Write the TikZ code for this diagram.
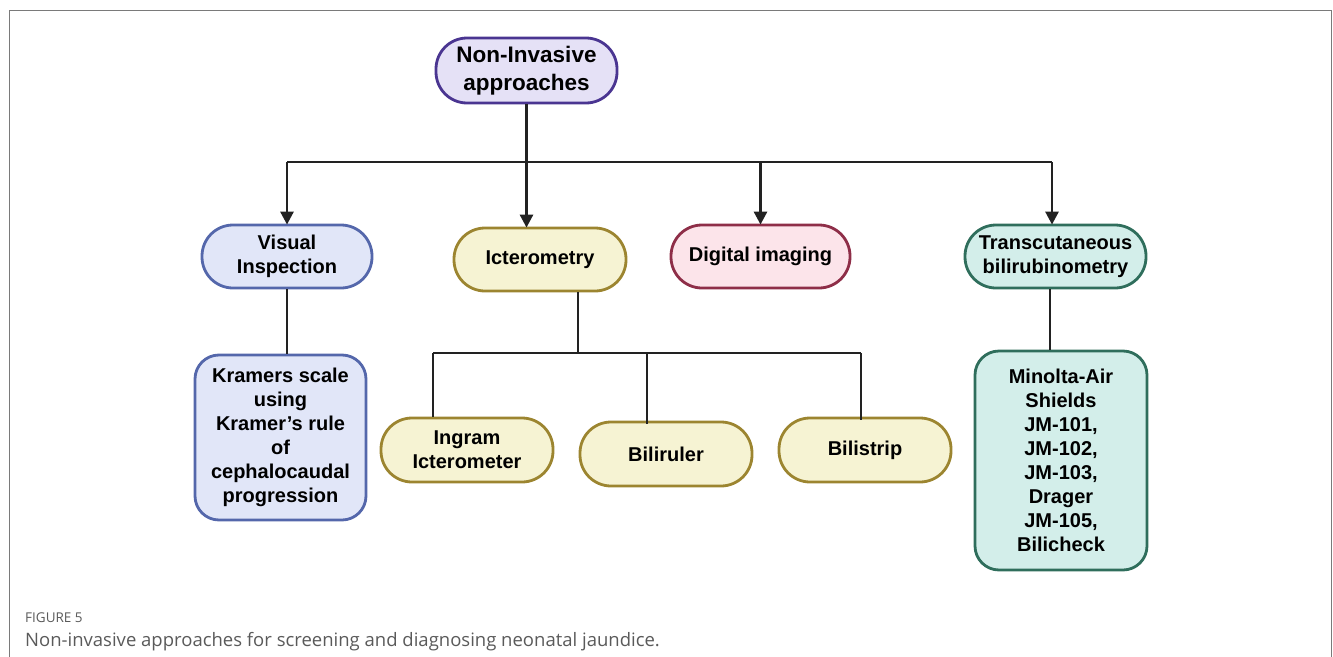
\documentclass[tikz,border=0pt]{standalone}
\usepackage{fontspec}
\setmainfont{Liberation Sans}
\newfontfamily\capfont{Open Sans}
\usetikzlibrary{arrows.meta}
\definecolor{rootfill}{HTML}{E5E1F6}
\definecolor{rootdraw}{HTML}{4A3591}
\definecolor{visfill}{HTML}{E1E6F8}
\definecolor{visdraw}{HTML}{5467AB}
\definecolor{ictfill}{HTML}{F6F3D3}
\definecolor{ictdraw}{HTML}{9C8530}
\definecolor{digfill}{HTML}{FCE4EA}
\definecolor{digdraw}{HTML}{8E2E48}
\definecolor{tcbfill}{HTML}{D3EEEA}
\definecolor{tcbdraw}{HTML}{2F6E5C}
\definecolor{framegray}{HTML}{7A7A7A}
\definecolor{capgray}{HTML}{5A5A5A}
\definecolor{linecol}{HTML}{222222}
\tikzset{
  pill/.style={rectangle, rounded corners=31pt, line width=2.8pt, inner sep=0pt,
    minimum height=63pt, align=center, font=\bfseries\fontsize{20}{24}\selectfont},
  tallbox/.style={rectangle, rounded corners=24pt, line width=2.8pt, inner sep=0pt,
    align=center, font=\bfseries\fontsize{20}{24}\selectfont},
  conn/.style={line width=2.8pt, draw=linecol},
  arr/.style={conn, -{Triangle[width=13pt,length=13pt]}, shorten >=-1pt},
}
\begin{document}
\begin{tikzpicture}[x=1pt,y=-1pt]
\useasboundingbox (0,0) rectangle (1333,656);
% frame
\draw[framegray, line width=1.3pt] (9.5,660) -- (9.5,10.5) -- (1331.5,10.5) -- (1331.5,660);
% nodes
\node[pill, fill=rootfill, draw=rootdraw, minimum width=181pt, minimum height=65pt,
  font=\bfseries\fontsize{22.5}{28}\selectfont] (root) at (526.5,70.5) {Non-Invasive\\approaches};
\node[pill, fill=visfill, draw=visdraw, minimum width=170pt] (vis) at (287,256.5) {Visual\\Inspection};
\node[pill, fill=ictfill, draw=ictdraw, minimum width=172pt] (ict) at (540,259.5) {Icterometry};
\node[pill, fill=digfill, draw=digdraw, minimum width=179pt] (dig) at (760.5,256.5) {Digital imaging};
\node[pill, fill=tcbfill, draw=tcbdraw, minimum width=181pt] (tcb) at (1055.5,256.5) {Transcutaneous\\bilirubinometry};
\node[tallbox, fill=visfill, draw=visdraw, minimum width=171pt, minimum height=165pt] (kra) at (280.5,437.5)
  {Kramers scale\\using\\Kramer’s rule\\of\\cephalocaudal\\progression};
\node[pill, fill=ictfill, draw=ictdraw, minimum width=172pt, minimum height=64pt] (ing) at (467,450) {Ingram\\Icterometer};
\node[pill, fill=ictfill, draw=ictdraw, minimum width=172pt, minimum height=64pt] (bru) at (666,454) {Biliruler};
\node[pill, fill=ictfill, draw=ictdraw, minimum width=172pt, minimum height=64pt] (bst) at (865,450) {Bilistrip};
\node[tallbox, fill=tcbfill, draw=tcbdraw, minimum width=172pt, minimum height=219pt] (min) at (1061,460.5)
  {Minolta-Air\\Shields\\JM-101,\\JM-102,\\JM-103,\\Drager\\JM-105,\\Bilicheck};
% connectors from root
\coordinate (bus) at (526.5,162);
\coordinate (busl) at (287,162);
\coordinate (busr) at (1052,162);
\draw[conn] (root.south) -- (bus);
\draw[conn] (busl) -- (busr);
\draw[arr] (busl) -- (vis.north);
\draw[arr] (bus) -- (bus |- ict.north);
\draw[arr] (bus -| dig.north) -- (dig.north);
\draw[arr] (busr) -- (busr |- tcb.north);
% visual -> kramers
\draw[conn] (vis.south) -- (vis.south |- kra.north);
% icterometry branch
\coordinate (ib) at (578,353);
\coordinate (ibl) at (433,353);
\coordinate (ibm) at (647,353);
\coordinate (ibr) at (861,353);
\draw[conn] (ib |- ict.south) -- (ib);
\draw[conn] (ibl) -- (ibr);
\draw[conn] (ibl) -- (ibl |- ing.north);
\draw[conn] (ibm) -- ([yshift=-3pt]ibm |- bru.north);
\draw[conn] (ibr) -- ([yshift=-3pt]ibr |- bst.north);
% tcb -> minolta
\coordinate (tb) at (1050,353);
\draw[conn] (tb |- tcb.south) -- (tb |- min.north);
% caption
\node[anchor=base west, inner sep=0pt, text=capgray, font=\capfont\fontsize{13.5}{16}\selectfont] (figlab) at (25,622) {FIGURE 5};
\node[anchor=base west, inner sep=0pt, text=capgray, font=\capfont\fontsize{18.5}{22}\selectfont] (captext) at (25,646)
  {Non-invasive approaches for screening and diagnosing neonatal jaundice.};
\end{tikzpicture}
\end{document}
